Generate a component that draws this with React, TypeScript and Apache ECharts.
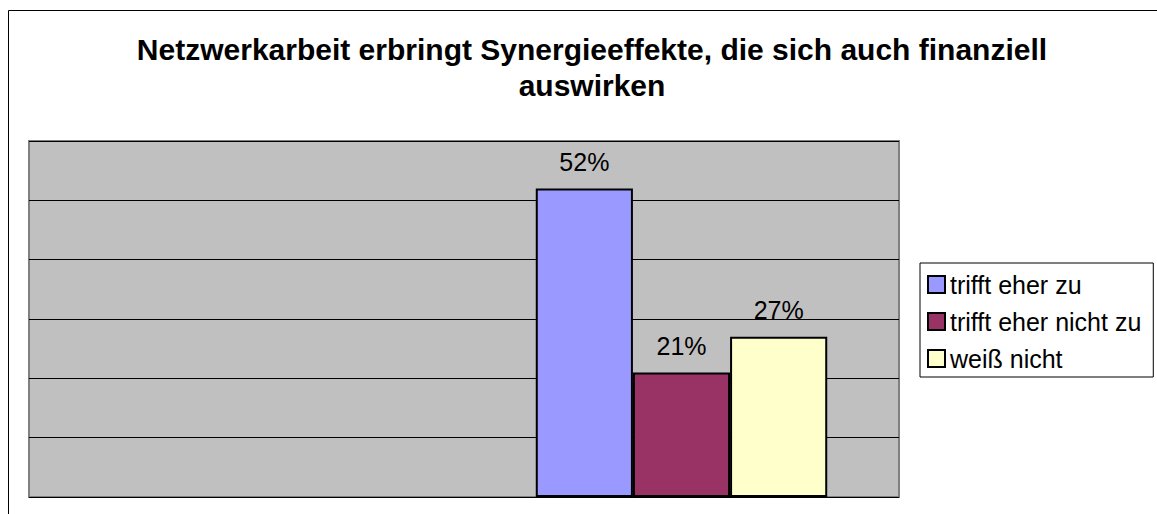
import React, { useEffect, useRef } from "react";
import * as echarts from "echarts";

const titleText = "Netzwerkarbeit erbringt Synergieeffekte, die sich auch finanziell\nauswirken";
const categories = ["", ""];
const seriesNames = ["trifft eher zu", "trifft eher nicht zu", "weiß nicht"];
const trifftEherZu = [null, 52];
const trifftEherNichtZu = [null, 21];
const weissNicht = [null, 27];
const seriesColors = ["#9999FF", "#993366", "#FFFFCC"];
const valueMax = 60;
const valueInterval = 10;

const FONT = "'Liberation Sans', Arial, Helvetica, sans-serif";

export default function App() {
  const ref = useRef<HTMLDivElement>(null);

  useEffect(() => {
    if (!ref.current) return;
    const chart = echarts.init(ref.current, null, { renderer: "svg" });
    const values = [trifftEherZu, trifftEherNichtZu, weissNicht];
    chart.setOption({
      animation: false,
      backgroundColor: "#FFFFFF",
      textStyle: { fontFamily: FONT },
      graphic: [
        {
          type: "polyline",
          shape: { points: [[8.5, 514], [8.5, 10.5], [1157, 10.5]] },
          style: { stroke: "#000", lineWidth: 1, fill: "none" },
          silent: true,
        },
        {
          type: "text",
          x: 592,
          y: 31,
          style: {
            text: titleText,
            fill: "#000",
            font: `bold 30px ${FONT}`,
            textAlign: "center",
            textVerticalAlign: "top",
            lineHeight: 36,
          },
        },
      ],
      legend: {
        orient: "vertical",
        left: 920,
        top: 263,
        padding: [9, 12, 6, 7],
        itemWidth: 17,
        itemHeight: 17,
        itemGap: 12,
        icon: "rect",
        borderColor: "#000",
        borderWidth: 1,
        backgroundColor: "#FFFFFF",
        textStyle: { fontSize: 25, color: "#000", fontFamily: FONT },
        data: seriesNames,
      },
      grid: {
        left: 29,
        right: 1157 - 899,
        top: 141,
        bottom: 514 - 497,
        show: true,
        backgroundColor: "#C0C0C0",
        borderColor: "#808080",
        borderWidth: 2,
      },
      xAxis: {
        type: "category",
        data: categories,
        axisLine: { show: false },
        axisTick: { show: false },
        axisLabel: { show: false },
        splitLine: { show: false },
      },
      yAxis: {
        type: "value",
        min: 0,
        max: valueMax,
        interval: valueInterval,
        axisLine: { show: false },
        axisTick: { show: false },
        axisLabel: { show: false },
        splitLine: { show: true, lineStyle: { color: "#000", width: 1 } },
      },
      series: seriesNames.map((name, i) => ({
        name,
        type: "bar",
        data: values[i],
        barGap: "0%",
        barCategoryGap: "33%",
        itemStyle: { color: seriesColors[i], borderColor: "#000", borderWidth: 2 },
        label: {
          show: true,
          position: "top",
          distance: 14,
          formatter: "{c}%",
          fontSize: 25,
          lineHeight: 25,
          color: "#000",
          fontFamily: FONT,
        },
      })),
    });
    return () => chart.dispose();
  }, []);

  return (
    <div
      ref={ref}
      style={{ position: "absolute", left: 0, top: 0, width: 1157, height: 514 }}
    />
  );
}
